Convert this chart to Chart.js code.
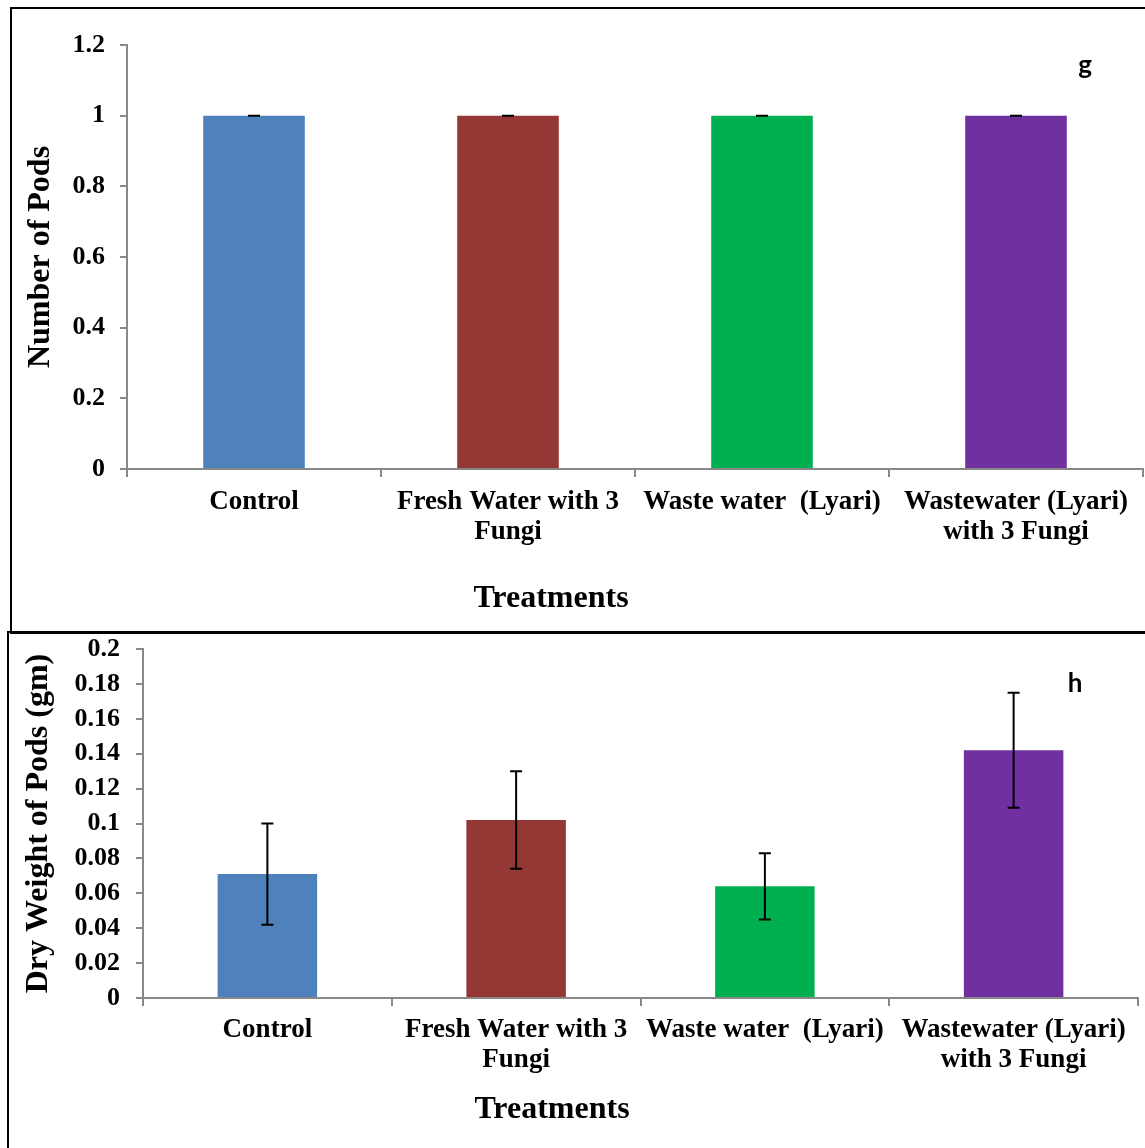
<!DOCTYPE html>
<html>
<head>
<meta charset="utf-8">
<script src="https://cdn.jsdelivr.net/npm/chart.js@4.4.1/dist/chart.umd.min.js"></script>
<style>
  body { margin: 0; background: #fff; }
  #page { position: relative; width: 1145px; height: 1148px; overflow: hidden; background: #fff; }
  canvas { position: absolute; left: 0; }
  .frame { position: absolute; border: 2px solid #000; box-sizing: border-box; pointer-events: none; }
  .axisTitle { position: absolute; font: bold 32px "Liberation Serif", "Times New Roman", serif; color: #000;
               transform: translate(-50%, -50%); white-space: nowrap; }
  .panelTag { position: absolute; font: bold 26px Lato, "Open Sans", sans-serif; color: #000;
              transform: translate(-50%, -50%); }
</style>
</head>
<body>
<div id="page">
  <canvas id="podsChart" width="1145" height="632" style="top:0"></canvas>
  <canvas id="weightChart" width="1145" height="528" style="top:620px"></canvas>
  <div class="frame" style="left:10px;top:7px;width:1150px;height:627px"></div>
  <div class="frame" style="left:7px;top:631px;width:1150px;height:530px"></div>
  <div class="axisTitle" style="left:551px;top:596px">Treatments</div>
  <div class="axisTitle" style="left:552px;top:1107px">Treatments</div>
  <div class="panelTag" style="left:1085px;top:64px">g</div>
  <div class="panelTag" style="left:1075px;top:682px">h</div>
</div>
<script>
// treatments on the x axis
const treatments = [
    ['Control'],
    ['Fresh Water with 3', 'Fungi'],
    ['Waste water  (Lyari)'],
    ['Wastewater (Lyari)', 'with 3 Fungi']
];
const barColors = ['#4F81BD', '#953735', '#00B050', '#7030A0'];

// panel g - number of pods
const podCount = [1, 1, 1, 1];
const podCountErr = [0, 0, 0, 0];

// panel h - dry weight of pods (gm)
const podWeight = [0.071, 0.102, 0.064, 0.142];
const podWeightErr = [0.029, 0.028, 0.019, 0.033];

const serif = '"Liberation Serif", "Times New Roman", serif';
const axisGrey = '#898989';

// draws the black error bars on top of each bar
const errorBars = {
    id: 'errorBars',
    afterDatasetsDraw(chart, args, opts) {
        const ctx = chart.ctx;
        const yScale = chart.scales.y;
        const meta = chart.getDatasetMeta(0);
        const values = chart.data.datasets[0].data;
        ctx.save();
        ctx.strokeStyle = '#000';
        ctx.lineWidth = 2;
        meta.data.forEach((bar, i) => {
            const err = opts.errors[i];
            const top = yScale.getPixelForValue(values[i] + err);
            const bottom = yScale.getPixelForValue(values[i] - err);
            const half = opts.capWidth / 2;
            ctx.beginPath();
            ctx.moveTo(bar.x, top);
            ctx.lineTo(bar.x, bottom);
            ctx.moveTo(bar.x - half, top);
            ctx.lineTo(bar.x + half, top);
            ctx.moveTo(bar.x - half, bottom);
            ctx.lineTo(bar.x + half, bottom);
            ctx.stroke();
        });
        ctx.restore();
    }
};

function makeChart(id, values, errors, yOpts, yTitle, box) {
    return new Chart(document.getElementById(id), {
        type: 'bar',
        data: {
            labels: treatments,
            datasets: [{
                data: values,
                backgroundColor: barColors,
                borderWidth: 0,
                barPercentage: 0.4,
                categoryPercentage: 1
            }]
        },
        options: {
            responsive: false,
            animation: false,
            layout: { padding: box.padding },
            plugins: {
                legend: { display: false },
                tooltip: { enabled: false },
                errorBars: { errors: errors, capWidth: 12 }
            },
            scales: {
                x: {
                    grid: { drawOnChartArea: false, drawTicks: true, tickLength: 8, color: axisGrey, lineWidth: 2 },
                    border: { color: axisGrey, width: 2 },
                    ticks: {
                        color: '#000',
                        padding: box.xPad,
                        maxRotation: 0,
                        autoSkip: false,
                        font: { family: serif, size: 27, weight: 'bold', lineHeight: 1.11 }
                    },
                    afterFit: s => { s.height = box.xHeight; }
                },
                y: {
                    min: 0,
                    max: yOpts.max,
                    grid: { drawOnChartArea: false, drawTicks: true, tickLength: 7, color: axisGrey, lineWidth: 2 },
                    border: { color: axisGrey, width: 2 },
                    ticks: {
                        stepSize: yOpts.step,
                        color: '#000',
                        padding: yOpts.pad,
                        font: { family: serif, size: 26, weight: 'bold', lineHeight: 1 },
                        callback: v => String(+v.toFixed(2))
                    },
                    title: {
                        display: true,
                        text: yTitle,
                        color: '#000',
                        padding: { top: box.titlePad, bottom: 0 },
                        font: { family: serif, size: 32, weight: 'bold' }
                    },
                    afterFit: s => { s.width = box.yWidth; }
                }
            }
        },
        plugins: [errorBars]
    });
}

makeChart('podsChart', podCount, podCountErr, { max: 1.2, step: 0.2, pad: 15 }, 'Number of Pods', {
    padding: { left: 0, top: 45, right: 2, bottom: 0 },
    yWidth: 127, xHeight: 163, xPad: 10, titlePad: 22
});

makeChart('weightChart', podWeight, podWeightErr, { max: 0.2, step: 0.02, pad: 16 }, 'Dry Weight of Pods (gm)', {
    padding: { left: 0, top: 28, right: 7, bottom: 0 },
    yWidth: 143, xHeight: 150, xPad: 9, titlePad: 20
});
</script>
</body>
</html>
